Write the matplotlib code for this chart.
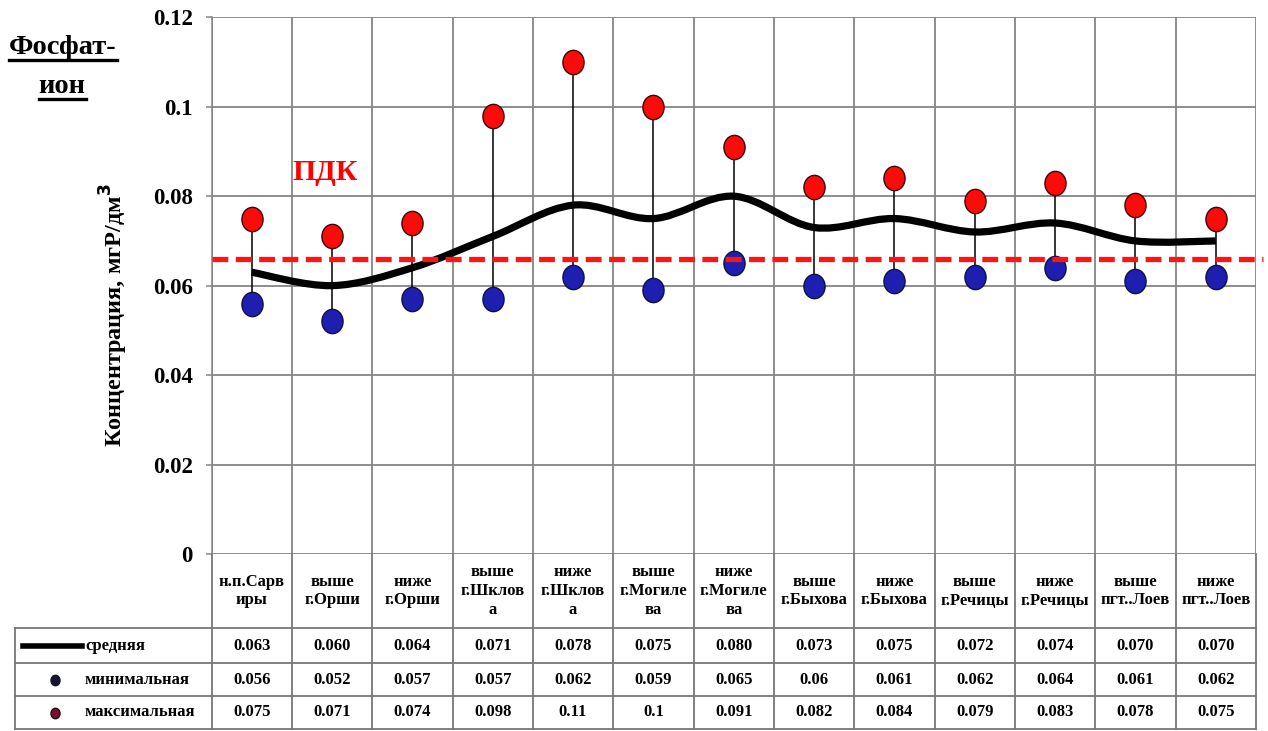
import numpy as np
import matplotlib
matplotlib.use("Agg")
import matplotlib.pyplot as plt
from matplotlib.path import Path
from matplotlib.patches import PathPatch
from matplotlib.lines import Line2D
import matplotlib.transforms as mtransforms

plt.rcParams["font.family"] = ["Liberation Serif", "DejaVu Serif"]
plt.rcParams["font.weight"] = "bold"

# ---- data -------------------------------------------------------------
sites = [
    "н.п.Сарв\nиры", "выше\nг.Орши", "ниже\nг.Орши",
    "выше\nг.Шклов\nа", "ниже\nг.Шклов\nа",
    "выше\nг.Могиле\nва", "ниже\nг.Могиле\nва",
    "выше\nг.Быхова", "ниже\nг.Быхова",
    "выше\nг.Речицы", "ниже\nг.Речицы",
    "выше\nпгт..Лоев", "ниже\nпгт..Лоев",
]
mean_vals = [0.063, 0.060, 0.064, 0.071, 0.078, 0.075, 0.080,
             0.073, 0.075, 0.072, 0.074, 0.070, 0.070]
min_vals = [0.056, 0.052, 0.057, 0.057, 0.062, 0.059, 0.065,
            0.06, 0.061, 0.062, 0.064, 0.061, 0.062]
max_vals = [0.075, 0.071, 0.074, 0.098, 0.11, 0.1, 0.091,
            0.082, 0.084, 0.079, 0.083, 0.078, 0.075]
pdk_value = 0.066
series_names = ["средняя", "минимальная", "максимальная"]
y_ticks = [0, 0.02, 0.04, 0.06, 0.08, 0.1, 0.12]
y_tick_labels = ["0", "0.02", "0.04", "0.06", "0.08", "0.1", "0.12"]

# ---- figure geometry (pixel helpers) -----------------------------------
W, H = 1268, 731
fig = plt.figure(figsize=(W / 100, H / 100), dpi=100)


def fx(px):
    return px / W


def fy(py):
    return 1 - py / H


GRID = "#858585"
ax = fig.add_axes([fx(211.5), fy(554), fx(1256) - fx(211.5), fy(17.3) - fy(554)])
n = len(sites)
x = np.arange(n)
ax.set_xlim(-0.5, n - 0.5)
ax.set_ylim(0, 0.12)
ax.set_yticks(y_ticks)
ax.set_yticklabels(y_tick_labels)
ax.set_xticks(np.arange(n + 1) - 0.5)
ax.tick_params(axis="x", length=0, labelbottom=False)
ax.tick_params(axis="y", direction="out", length=4.5, width=1.1, color=GRID,
               pad=9, labelsize=16.5)
for s in ["top", "right", "bottom"]:
    ax.spines[s].set_visible(False)
ax.spines["left"].set_color(GRID)
ax.spines["left"].set_linewidth(1.1)
ax.grid(True, color=GRID, lw=1.3)
ax.set_axisbelow(True)

# stems between min and max
ax.vlines(x, min_vals, max_vals, color="black", lw=1.1, zorder=2)

# smoothed mean line (Catmull-Rom as cubic Bezier segments)
pts = np.column_stack([x, mean_vals]).astype(float)
ext = np.vstack([pts[0], pts, pts[-1]])
verts = [tuple(pts[0])]
codes = [Path.MOVETO]
for i in range(n - 1):
    p0, p1, p2, p3 = ext[i], ext[i + 1], ext[i + 2], ext[i + 3]
    c1 = p1 + (p2 - p0) / 6
    c2 = p2 - (p3 - p1) / 6
    verts += [tuple(c1), tuple(c2), tuple(p2)]
    codes += [Path.CURVE4] * 3
ax.add_patch(PathPatch(Path(verts, codes), fill=False, lw=5.2, ec="black",
                       capstyle="butt", joinstyle="round", zorder=3))

# min / max markers
ell = Path.unit_circle().transformed(mtransforms.Affine2D().scale(0.87, 1.0))
ax.plot(x, max_vals, ls="none", marker=ell, ms=17.5, mfc="#ff0a0a",
        mec="#3a0808", mew=1.0, zorder=4)
ax.plot(x, min_vals, ls="none", marker=ell, ms=17.5, mfc="#1e1eb0",
        mec="#10104a", mew=1.0, zorder=4)

# permissible concentration line
ax.plot([-0.5, n - 0.41], [pdk_value, pdk_value], color="#ff1414", lw=3.8,
        linestyle=(0, (3.0, 1.42)), clip_on=False, zorder=5)
fig.text(fx(325), fy(172), "ПДК", color="#ff0000", fontsize=21.5,
         ha="center", va="center")

# axis title
fig.text(fx(114), fy(315), "Концентрация, мгР/дм$^3$", rotation=90,
         fontsize=17.5, ha="center", va="center")

# underlined heading
t1 = fig.text(fx(9), fy(54), "Фосфат-", fontsize=20.5, ha="left", va="baseline")
t2 = fig.text(fx(62), fy(93), "ион", fontsize=20.5, ha="center", va="baseline")
fig.canvas.draw()
rend = fig.canvas.get_renderer()
for t, base in [(t1, 54), (t2, 93)]:
    bb = t.get_window_extent(rend)
    fig.add_artist(Line2D([bb.x0 / W, bb.x1 / W], [fy(base + 5.5)] * 2,
                          transform=fig.transFigure, color="black", lw=2.4))

# ---- data table below the axes ----------------------------------------
trans = mtransforms.blended_transform_factory(ax.transData, fig.transFigure)
TBL = "#777777"
row_lines = [628, 663, 696, 729]
for k in range(n + 1):
    fig.add_artist(Line2D([k - 0.5, k - 0.5], [fy(554), fy(729)],
                          transform=trans, color=TBL, lw=1.3))
for py in row_lines:
    fig.add_artist(Line2D([fx(15), fx(1256)], [fy(py)] * 2,
                          transform=fig.transFigure, color=TBL, lw=1.3))
fig.add_artist(Line2D([fx(15), fx(15)], [fy(628), fy(729)],
                      transform=fig.transFigure, color=TBL, lw=1.3))

for i, s in enumerate(sites):
    fig.text(i, fy(591), s, transform=trans, ha="center", va="center",
             fontsize=12, linespacing=1.25)

row_centers = [645.5, 679.5, 712.5]
row_texts = [
    [f"{v:.3f}" for v in mean_vals],
    [f"{v:g}" for v in min_vals],
    [f"{v:g}" for v in max_vals],
]
for yc, texts in zip(row_centers, row_texts):
    for i, s in enumerate(texts):
        fig.text(i, fy(yc), s, transform=trans, ha="center", va="center",
                 fontsize=12)

# legend keys in the table
fig.add_artist(Line2D([fx(23), fx(82)], [fy(645.5)] * 2,
                      transform=fig.transFigure, color="black", lw=4))
fig.add_artist(Line2D([fx(55)], [fy(679.5)], transform=fig.transFigure,
                      marker=ell, ms=7.5, mfc="#15152e", mec="#15152e", ls="none"))
fig.add_artist(Line2D([fx(55)], [fy(712.5)], transform=fig.transFigure,
                      marker=ell, ms=7.5, mfc="#7a1030", mec="#2a0a10", ls="none"))
for yc, name in zip(row_centers, series_names):
    fig.text(fx(85), fy(yc), name, ha="left", va="center", fontsize=12)

fig.savefig("out.png", dpi=100)
